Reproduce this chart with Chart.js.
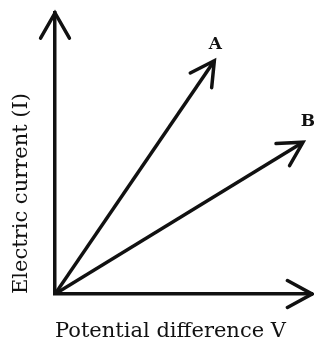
<!DOCTYPE html>
<html>
<head>
<meta charset="utf-8">
<style>
  html, body { margin: 0; padding: 0; background: #fff; }
  #wrap { width: 314px; height: 343px; }
</style>
<script src="https://cdn.jsdelivr.net/npm/chart.js@4/dist/chart.umd.min.js"></script>
</head>
<body>
<div id="wrap"><canvas id="chart"></canvas></div>
<script>
// potential difference (V) and current (I) readings for the two conductors
const seriesNames = ['A', 'B'];
const voltageA = [0, 6.2];
const currentA = [0, 8.3];
const voltageB = [0, 9.65];
const currentB = [0, 5.4];

const xTitle = 'Potential difference V';
const yTitle = 'Electric current (I)';

const INK = '#111';
const SERIF = "'DejaVu Serif', serif";

function toPoints(xs, ys) {
  return xs.map((x, i) => ({ x, y: ys[i] }));
}

// open "V" arrowhead at (tx, ty), pointing along angle
function drawHead(ctx, tx, ty, angle, len, spread) {
  ctx.beginPath();
  ctx.moveTo(tx - len * Math.cos(angle - spread), ty - len * Math.sin(angle - spread));
  ctx.lineTo(tx, ty);
  ctx.lineTo(tx - len * Math.cos(angle + spread), ty - len * Math.sin(angle + spread));
  ctx.stroke();
}

const arrowPlugin = {
  id: 'arrows',
  afterDatasetsDraw(chart) {
    const { ctx, chartArea } = chart;
    ctx.save();
    ctx.strokeStyle = INK;
    ctx.lineWidth = 3.5;
    ctx.lineCap = 'round';
    ctx.lineJoin = 'miter';

    // axis arrowheads
    drawHead(ctx, chartArea.left, chartArea.top, -Math.PI / 2, 29, 0.52);
    drawHead(ctx, chartArea.right, chartArea.bottom, 0, 28, 0.5);

    // series arrowheads + labels
    ctx.fillStyle = INK;
    ctx.font = "bold 17px " + SERIF;
    ctx.textAlign = 'center';
    ctx.textBaseline = 'middle';
    chart.data.datasets.forEach((ds, i) => {
      const pts = chart.getDatasetMeta(i).data;
      const a = pts[pts.length - 2], b = pts[pts.length - 1];
      const ang = Math.atan2(b.y - a.y, b.x - a.x);
      drawHead(ctx, b.x, b.y, ang, 27, 0.5);
      if (i === 0) ctx.fillText(ds.label, b.x + 1, b.y - 16);
      else ctx.fillText(ds.label, b.x + 5, b.y - 21);
    });
    ctx.restore();
  },
};

new Chart(document.getElementById('chart'), {
  type: 'scatter',
  data: {
    datasets: [
      {
        label: seriesNames[0],
        data: toPoints(voltageA, currentA),
        showLine: true,
        borderColor: INK,
        borderWidth: 3.5,
        pointRadius: 0,
      },
      {
        label: seriesNames[1],
        data: toPoints(voltageB, currentB),
        showLine: true,
        borderColor: INK,
        borderWidth: 3.5,
        pointRadius: 0,
      },
    ],
  },
  options: {
    responsive: true,
    maintainAspectRatio: false,
    animation: false,
    layout: { padding: { top: 13, right: 2, bottom: 0, left: 0 } },
    plugins: {
      legend: { display: false },
      tooltip: { enabled: false },
    },
    scales: {
      x: {
        type: 'linear',
        min: 0,
        max: 10,
        grid: { display: false },
        ticks: { display: false },
        border: { color: INK, width: 3.5 },
        title: {
          display: true,
          text: xTitle,
          align: 'start',
          color: INK,
          font: { family: SERIF, size: 21 },
          padding: { top: 0, bottom: -1 },
        },
        afterFit(scale) { scale.height = 49; },
      },
      y: {
        type: 'linear',
        min: 0,
        max: 10,
        grid: { display: false },
        ticks: { display: false },
        border: { color: INK, width: 3.5 },
        title: {
          display: true,
          text: yTitle,
          align: 'start',
          color: INK,
          font: { family: SERIF, size: 21 },
          padding: { top: 9, bottom: 0 },
        },
        afterFit(scale) { scale.width = 55; },
      },
    },
  },
  plugins: [arrowPlugin],
});
</script>
</body>
</html>
